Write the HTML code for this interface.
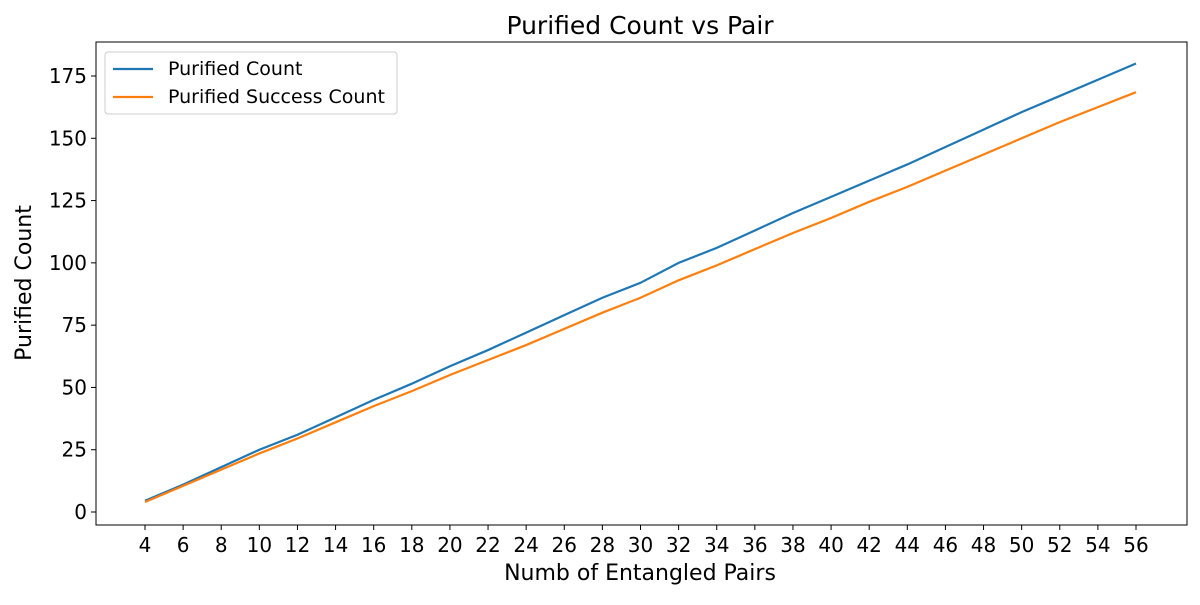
<!DOCTYPE html>
<html><head><meta charset="utf-8"><style>
body{margin:0;background:#fff}
svg{font-family:"DejaVu Sans","Liberation Sans",sans-serif}
</style></head><body>
<svg id="chart" width="1200" height="600" xmlns="http://www.w3.org/2000/svg"></svg>
<script>
const pairs=[4,6,8,10,12,14,16,18,20,22,24,26,28,30,32,34,36,38,40,42,44,46,48,50,52,54,56];
const purifiedCount=[4.5,11,18,25,31,38,45,51.5,58.5,65,72,79,86,92,100,106,113,120,126.5,133,139.5,146.5,153.5,160.5,167,173.5,180];
const successCount=[4,10.5,17,23.5,29.5,36,42.5,48.5,55,61,67,73.5,80,86,93,99,105.5,112,118,124.5,130.5,137,143.5,150,156.5,162.5,168.5];
const yTicks=[0,25,50,75,100,125,150,175];
const NS="http://www.w3.org/2000/svg";
const svg=document.getElementById('chart');
const L=96,R=1187,T=42,B=525;
const xs=v=>145+(v-4)*(1136-145)/52;
const ys=v=>512-v*(512-76)/175;
function mk(tag,attrs,text){const e=document.createElementNS(NS,tag);for(const k in attrs)e.setAttribute(k,attrs[k]);if(text!==undefined)e.textContent=text;svg.appendChild(e);return e;}
let e=mk('rect',{x:L,y:T,width:R-L,height:B-T,fill:'none',stroke:'#000','stroke-width':1});


pairs.forEach(p=>{
 mk('line',{x1:xs(p),x2:xs(p),y1:B,y2:B+5,stroke:'#000'});
 const t=mk('text',{x:xs(p),y:B+27,'text-anchor':'middle','font-size':20},p);
 
 
});
yTicks.forEach(v=>{
 mk('line',{x1:L-5,x2:L,y1:ys(v),y2:ys(v),stroke:'#000'});
 const t=mk('text',{x:L-9,y:ys(v)+7,'text-anchor':'end','font-size':20},v);
 
 
});
function line(vals,color,name){
 const p=mk('polyline',{points:pairs.map((x,i)=>xs(x)+','+ys(vals[i])).join(' '),fill:'none',stroke:color,'stroke-width':2.2});
 
 
}
line(purifiedCount,'#1f77b4','purified-count-line');
line(successCount,'#ff7f0e','purified-success-count-line');
e=mk('text',{x:640,y:34,'text-anchor':'middle','font-size':25},'Purified Count vs Pair');


e=mk('text',{x:640,y:580,'text-anchor':'middle','font-size':22},'Numb of Entangled Pairs');


e=mk('text',{x:31,y:283,'text-anchor':'middle','font-size':22,transform:'rotate(-90 31 283)'},'Purified Count');


e=mk('rect',{x:105,y:52,width:292,height:62,rx:3,fill:'#fff',stroke:'#ccc'});


mk('line',{x1:113,x2:153,y1:69,y2:69,stroke:'#1f77b4','stroke-width':2.2});
e=mk('text',{x:168,y:75,'font-size':19},'Purified Count');


mk('line',{x1:113,x2:153,y1:97,y2:97,stroke:'#ff7f0e','stroke-width':2.2});
e=mk('text',{x:168,y:103,'font-size':19},'Purified Success Count');


</script>
</body></html>
